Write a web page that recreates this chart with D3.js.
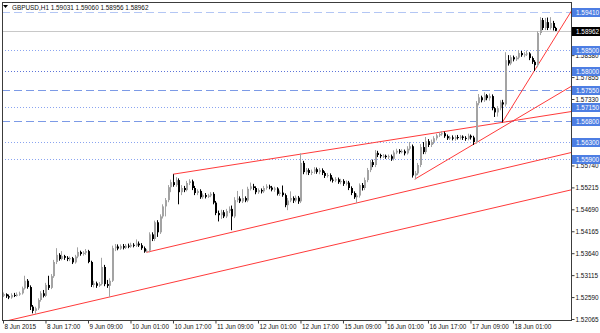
<!DOCTYPE html>
<html><head><meta charset="utf-8">
<script src="https://cdn.jsdelivr.net/npm/d3@7/dist/d3.min.js"></script>
<style>body{margin:0;background:#fff}svg{display:block}text{font-family:"Liberation Sans",Arial,sans-serif}</style>
</head><body><svg id="c" width="600" height="333"></svg>
<script>
const chartTitle = "GBPUSD,H1  1.59031 1.59060 1.58956 1.58962";

const open = [
1.5262,1.5266,1.5261,1.5258,1.5264,1.5262,1.5265,1.5268,1.5280,1.5298,
1.5283,1.5236,1.5226,1.5232,1.5252,1.5268,1.5262,1.5288,1.5281,1.5309,
1.5343,1.5360,1.5350,1.5357,1.5353,1.5350,1.5352,1.5342,1.5356,1.5367,
1.5362,1.5365,1.5369,1.5343,1.5288,1.5292,1.5286,1.5290,1.5331,1.5290,
1.5286,1.5298,1.5376,1.5380,1.5375,1.5381,1.5377,1.5382,1.5380,1.5384,
1.5382,1.5387,1.5383,1.5376,1.5368,1.5370,1.5409,1.5398,1.5438,1.5414,
1.5452,1.5476,1.5491,1.5522,1.5534,1.5527,1.5539,1.5510,1.5520,1.5515,
1.5532,1.5536,1.5520,1.5508,1.5513,1.5498,1.5503,1.5499,1.5502,1.5506,
1.5485,1.5460,1.5455,1.5462,1.5452,1.5465,1.5470,1.5452,1.5491,1.5495,
1.5488,1.5496,1.5490,1.5518,1.5524,1.5520,1.5510,1.5515,1.5512,1.5520,
1.5524,1.5521,1.5516,1.5519,1.5506,1.5509,1.5503,1.5479,1.5490,1.5496,
1.5490,1.5497,1.5488,1.5580,1.5558,1.5563,1.5556,1.5559,1.5565,1.5558,
1.5563,1.5556,1.5549,1.5551,1.5540,1.5538,1.5541,1.5534,1.5537,1.5530,
1.5533,1.5520,1.5508,1.5498,1.5502,1.5527,1.5520,1.5539,1.5563,1.5582,
1.5575,1.5604,1.5599,1.5596,1.5597,1.5594,1.5596,1.5590,1.5605,1.5609,
1.5606,1.5608,1.5603,1.5614,1.5620,1.5550,1.5555,1.5575,1.5618,1.5606,
1.5632,1.5623,1.5630,1.5639,1.5646,1.5649,1.5651,1.5644,1.5639,1.5641,
1.5638,1.5642,1.5640,1.5643,1.5640,1.5638,1.5645,1.5641,1.5630,1.5723,
1.5737,1.5730,1.5742,1.5735,1.5740,1.5711,1.5701,1.5711,1.5725,1.5720,
1.5826,1.5818,1.5833,1.5828,1.5832,1.5843,1.5838,1.5840,1.5842,1.5831,
1.5822,1.5814,1.5891,1.5922,1.5903,1.5917,1.5903,1.5915,1.59031];

const high = [
1.5270,1.5268,1.5265,1.5268,1.5269,1.5270,1.5272,1.5284,1.5310,1.5302,
1.5287,1.5240,1.5236,1.5256,1.5273,1.5276,1.5293,1.5310,1.5314,1.5348,
1.5376,1.5364,1.5369,1.5360,1.5357,1.5356,1.5355,1.5360,1.5378,1.5370,
1.5369,1.5374,1.5372,1.5346,1.5298,1.5296,1.5295,1.5353,1.5336,1.5300,
1.5304,1.5382,1.5386,1.5385,1.5385,1.5386,1.5386,1.5387,1.5389,1.5388,
1.5397,1.5392,1.5388,1.5380,1.5374,1.5414,1.5414,1.5442,1.5443,1.5457,
1.5481,1.5496,1.5527,1.5540,1.5553,1.5546,1.5543,1.5527,1.5525,1.5537,
1.5541,1.5540,1.5525,1.5517,1.5517,1.5507,1.5508,1.5506,1.5510,1.5510,
1.5489,1.5466,1.5468,1.5467,1.5470,1.5476,1.5478,1.5498,1.5513,1.5500,
1.5517,1.5500,1.5523,1.5533,1.5530,1.5524,1.5519,1.5519,1.5525,1.5529,
1.5528,1.5525,1.5523,1.5522,1.5514,1.5526,1.5507,1.5496,1.5512,1.5500,
1.5502,1.5501,1.5603,1.5585,1.5568,1.5567,1.5564,1.5570,1.5569,1.5568,
1.5567,1.5560,1.5556,1.5555,1.5545,1.5546,1.5545,1.5542,1.5541,1.5538,
1.5537,1.5524,1.5512,1.5507,1.5531,1.5532,1.5545,1.5568,1.5587,1.5588,
1.5611,1.5609,1.5602,1.5601,1.5600,1.5600,1.5600,1.5610,1.5614,1.5613,
1.5613,1.5612,1.5620,1.5630,1.5624,1.5561,1.5580,1.5625,1.5630,1.5642,
1.5637,1.5636,1.5644,1.5650,1.5653,1.5656,1.5655,1.5648,1.5645,1.5646,
1.5646,1.5647,1.5647,1.5646,1.5644,1.5650,1.5648,1.5645,1.5728,1.5745,
1.5741,1.5749,1.5745,1.5746,1.5744,1.5714,1.5716,1.5730,1.5731,1.5845,
1.5838,1.5838,1.5837,1.5836,1.5850,1.5848,1.5845,1.5849,1.5845,1.5835,
1.5826,1.5895,1.5929,1.5927,1.5927,1.5928,1.5929,1.5920,1.59060];

const low = [
1.5259,1.5257,1.5254,1.5255,1.5259,1.5260,1.5262,1.5265,1.5277,1.5279,
1.5228,1.5220,1.5219,1.5228,1.5248,1.5258,1.5259,1.5276,1.5278,1.5305,
1.5338,1.5346,1.5347,1.5348,1.5345,1.5345,1.5338,1.5339,1.5352,1.5358,
1.5358,1.5360,1.5340,1.5283,1.5282,1.5281,1.5283,1.5287,1.5285,1.5281,
1.5259,1.5295,1.5369,1.5371,1.5372,1.5373,1.5374,1.5376,1.5377,1.5378,
1.5379,1.5379,1.5372,1.5365,1.5366,1.5366,1.5393,1.5393,1.5403,1.5410,
1.5447,1.5452,1.5486,1.5510,1.5523,1.5523,1.5481,1.5503,1.5510,1.5512,
1.5527,1.5515,1.5503,1.5503,1.5494,1.5494,1.5495,1.5496,1.5498,1.5481,
1.5455,1.5440,1.5446,1.5448,1.5448,1.5460,1.5419,1.5448,1.5486,1.5484,
1.5484,1.5486,1.5486,1.5514,1.5515,1.5505,1.5506,1.5507,1.5508,1.5516,
1.5517,1.5512,1.5511,1.5502,1.5501,1.5499,1.5474,1.5467,1.5486,1.5484,
1.5486,1.5482,1.5484,1.5553,1.5552,1.5551,1.5551,1.5554,1.5554,1.5553,
1.5551,1.5544,1.5545,1.5536,1.5533,1.5534,1.5530,1.5529,1.5525,1.5526,
1.5515,1.5503,1.5494,1.5484,1.5497,1.5514,1.5515,1.5534,1.5558,1.5570,
1.5570,1.5594,1.5591,1.5592,1.5590,1.5589,1.5585,1.5586,1.5601,1.5602,
1.5603,1.5598,1.5600,1.5610,1.5545,1.5541,1.5551,1.5570,1.5601,1.5601,
1.5618,1.5618,1.5625,1.5634,1.5642,1.5645,1.5640,1.5635,1.5635,1.5634,
1.5633,1.5636,1.5636,1.5635,1.5633,1.5634,1.5636,1.5623,1.5626,1.5718,
1.5725,1.5726,1.5730,1.5729,1.5706,1.5690,1.5691,1.5706,1.5677,1.5715,
1.5813,1.5814,1.5823,1.5824,1.5828,1.5834,1.5833,1.5836,1.5826,1.5817,
1.5800,1.5809,1.5886,1.5898,1.5898,1.5898,1.5899,1.5897,1.58956];

const close = [
1.5266,1.5261,1.5258,1.5264,1.5262,1.5265,1.5268,1.5280,1.5298,1.5283,
1.5236,1.5226,1.5232,1.5252,1.5268,1.5262,1.5288,1.5281,1.5309,1.5343,
1.5360,1.5350,1.5357,1.5353,1.5350,1.5352,1.5342,1.5356,1.5367,1.5362,
1.5365,1.5369,1.5343,1.5288,1.5292,1.5286,1.5290,1.5331,1.5290,1.5286,
1.5298,1.5376,1.5380,1.5375,1.5381,1.5377,1.5382,1.5380,1.5384,1.5382,
1.5387,1.5383,1.5376,1.5368,1.5370,1.5409,1.5398,1.5438,1.5414,1.5452,
1.5476,1.5491,1.5522,1.5534,1.5527,1.5539,1.5510,1.5520,1.5515,1.5532,
1.5536,1.5520,1.5508,1.5513,1.5498,1.5503,1.5499,1.5502,1.5506,1.5485,
1.5460,1.5455,1.5462,1.5452,1.5465,1.5470,1.5452,1.5491,1.5495,1.5488,
1.5496,1.5490,1.5518,1.5524,1.5520,1.5510,1.5515,1.5512,1.5520,1.5524,
1.5521,1.5516,1.5519,1.5506,1.5509,1.5503,1.5479,1.5490,1.5496,1.5490,
1.5497,1.5488,1.5580,1.5558,1.5563,1.5556,1.5559,1.5565,1.5558,1.5563,
1.5556,1.5549,1.5551,1.5540,1.5538,1.5541,1.5534,1.5537,1.5530,1.5533,
1.5520,1.5508,1.5498,1.5502,1.5527,1.5520,1.5539,1.5563,1.5582,1.5575,
1.5604,1.5599,1.5596,1.5597,1.5594,1.5596,1.5590,1.5605,1.5609,1.5606,
1.5608,1.5603,1.5614,1.5620,1.5550,1.5555,1.5575,1.5618,1.5606,1.5632,
1.5623,1.5630,1.5639,1.5646,1.5649,1.5651,1.5644,1.5639,1.5641,1.5638,
1.5642,1.5640,1.5643,1.5640,1.5638,1.5645,1.5641,1.5630,1.5723,1.5737,
1.5730,1.5742,1.5735,1.5740,1.5711,1.5701,1.5711,1.5725,1.5720,1.5826,
1.5818,1.5833,1.5828,1.5832,1.5843,1.5838,1.5840,1.5842,1.5831,1.5822,
1.5814,1.5891,1.5922,1.5903,1.5917,1.5903,1.5915,1.5903,1.58962];

const timeLabels = ["8 Jun 2015","8 Jun 17:00","9 Jun 09:00","10 Jun 01:00","10 Jun 17:00",
  "11 Jun 09:00","12 Jun 01:00","12 Jun 17:00","15 Jun 09:00","16 Jun 01:00",
  "16 Jun 17:00","17 Jun 09:00","18 Jun 01:00"];
const timeLabelBars = [0,16,32,48,64,80,96,112,128,144,160,176,192];

const priceTicks = [1.52065,1.52590,1.53115,1.53640,1.54165,1.54690,1.55215,1.55740,1.57330,1.57855,1.58380];

const levelPrices = [1.59410,1.58500,1.58000,1.57550,1.57150,1.56800,1.56300,1.55900];
const levelKinds  = ["dashLight","dot","dotDark","dash","dot","dash","dot","dot"];
const currentPrice = 1.58962;

// trend lines: [barIndex, price] anchor pairs, drawn as rays to the right
const trendFrom = [[0,1.5200],[54,1.5366],[64,1.5553],[155,1.5541],[188,1.5677]];
const trendTo   = [[40,1.5259],[133,1.5484],[112,1.5601],[177,1.5624],[200,1.5800]];

// ---------------- drawing ----------------
const W = 600, H = 333;
const plot = {left: 2, top: 2, right: 571, bottom: 320};
const svg = d3.select("#c");

const x = d3.scaleLinear().domain([0, close.length - 1]).range([3, 3 + (close.length - 1) * 2.656]);
const y = d3.scaleLinear().domain([1.52065, 1.59410]).range([319, 12.1]);

svg.append("defs").append("clipPath").attr("id","pc")
  .append("rect").attr("x",plot.left).attr("y",plot.top)
  .attr("width",plot.right-plot.left).attr("height",plot.bottom-plot.top);

const g = svg.append("g").attr("clip-path","url(#pc)");

// level lines
const levelStyle = {
  dashLight: {stroke:"#b3c6f4", dash:"8,4"},
  dash:      {stroke:"#7c9ae6", dash:"8,4"},
  dot:       {stroke:"#8aa4f0", dash:"1,2"},
  dotDark:   {stroke:"#5d74d8", dash:"1,2"}
};
g.selectAll("line.level").data(levelPrices).join("line")
  .attr("class","level")
  .attr("x1",plot.left).attr("x2",plot.right)
  .attr("y1",d=>Math.round(y(d))+0.5).attr("y2",d=>Math.round(y(d))+0.5)
  .attr("stroke",(d,i)=>levelStyle[levelKinds[i]].stroke)
  .attr("stroke-dasharray",(d,i)=>levelStyle[levelKinds[i]].dash)
  .attr("stroke-width",1);

// current price line
g.append("line")
  .attr("x1",plot.left).attr("x2",plot.right)
  .attr("y1",Math.round(y(currentPrice))+0.5).attr("y2",Math.round(y(currentPrice))+0.5)
  .attr("stroke","#c8c8c8").attr("stroke-width",1);

// trend lines (rays)
const xRightIdx = x.invert(plot.right + 2);
g.selectAll("line.trend").data(trendFrom).join("line")
  .attr("class","trend")
  .each(function(a,i){
    const b = trendTo[i];
    const slope = (b[1]-a[1])/(b[0]-a[0]);
    const pEnd = a[1] + slope*(xRightIdx - a[0]);
    d3.select(this)
      .attr("x1",x(a[0])).attr("y1",y(a[1]))
      .attr("x2",x(xRightIdx)).attr("y2",y(pEnd));
  })
  .attr("stroke","#ff3a3a").attr("stroke-width",1);

// candles
const bars = d3.range(close.length);
const bullCol = "#a3a3a3", bearCol = "#000000";
const col = i => close[i] >= open[i] ? bullCol : bearCol;
g.selectAll("line.wick").data(bars).join("line")
  .attr("class","wick")
  .attr("x1",i=>Math.round(x(i))+0.5).attr("x2",i=>Math.round(x(i))+0.5)
  .attr("y1",i=>y(high[i])).attr("y2",i=>y(low[i]))
  .attr("stroke",col).attr("stroke-width",1);
g.selectAll("rect.body").data(bars).join("rect")
  .attr("class","body")
  .attr("x",i=>Math.round(x(i)))
  .attr("width",2)
  .attr("y",i=>y(Math.max(open[i],close[i])))
  .attr("height",i=>Math.max(1, Math.abs(y(open[i])-y(close[i]))))
  .attr("fill",col);

// frame
svg.append("rect").attr("x",plot.left+0.5).attr("y",plot.top+0.5)
  .attr("width",plot.right-plot.left).attr("height",plot.bottom-plot.top)
  .attr("fill","none").attr("stroke","#3c3c3c").attr("stroke-width",1);

// bottom axis
const xAxis = d3.axisBottom(x).tickValues(timeLabelBars)
  .tickFormat((d,i)=>timeLabels[i]).tickSize(3).tickPadding(1);
const gx = svg.append("g").attr("transform",`translate(0,${plot.bottom+0.5})`).call(xAxis);
gx.select(".domain").remove();
gx.selectAll(".tick line").attr("stroke","#3c3c3c");
gx.selectAll(".tick text").attr("text-anchor","start").attr("dx",1)
  .attr("font-size",6.4).attr("fill","#111").attr("font-family","Liberation Sans, Arial, sans-serif");

// right axis
const yAxis = d3.axisRight(y).tickValues(priceTicks).tickFormat(d3.format(".5f")).tickSize(3).tickPadding(1);
const gy = svg.append("g").attr("transform",`translate(${plot.right+0.5},0)`).call(yAxis);
gy.select(".domain").remove();
gy.selectAll(".tick line").attr("stroke","#3c3c3c");
gy.selectAll(".tick text").attr("font-size",6.4).attr("fill","#111")
  .attr("font-family","Liberation Sans, Arial, sans-serif");

// level price boxes
const boxes = svg.append("g");
const allTags = levelPrices.map(p=>({p, fill:"#4d7ee3"})).concat([{p:currentPrice, fill:"#000"}]);
boxes.selectAll("rect").data(allTags).join("rect")
  .attr("x",plot.right+1).attr("width",W-plot.right-1)
  .attr("y",d=>Math.round(y(d.p))-4).attr("height",9)
  .attr("fill",d=>d.fill);
boxes.selectAll("text").data(allTags).join("text")
  .attr("x",plot.right+5).attr("y",d=>Math.round(y(d.p))+0.5)
  .attr("dy","0.35em").attr("font-size",6.4).attr("fill","#fff")
  .text(d=>d3.format(".5f")(d.p));

// title
svg.append("path").attr("d","M3,5 L8,5 L5.5,8 Z").attr("fill","#000");
svg.append("text").attr("x",12).attr("y",9.5).attr("font-size",6.4).attr("fill","#111")
  .text(chartTitle);
</script></body></html>
